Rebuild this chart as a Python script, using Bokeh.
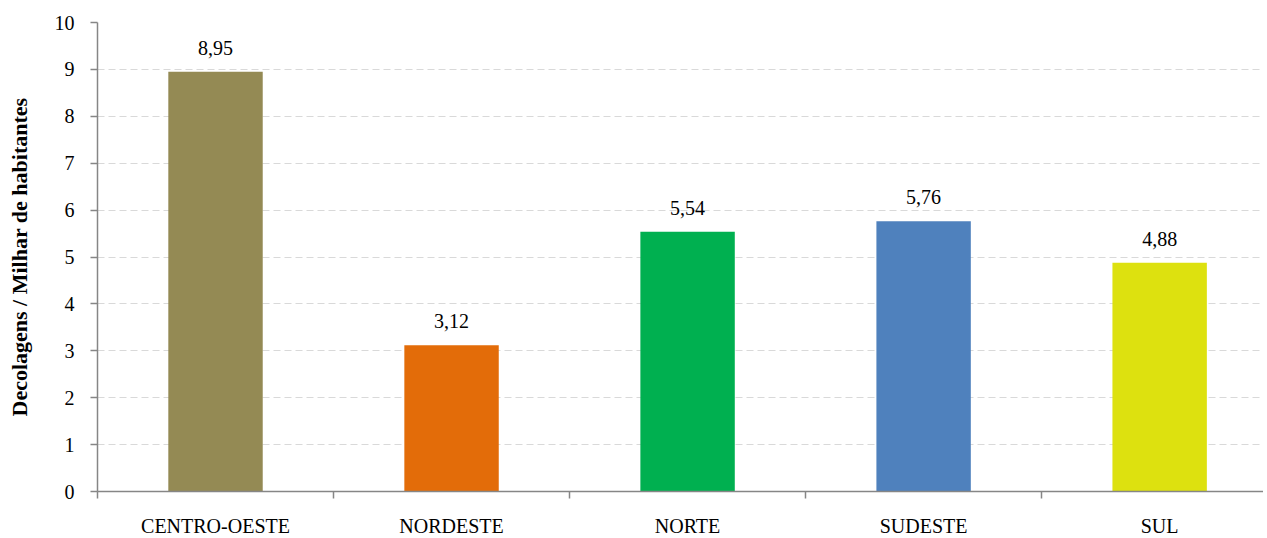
from bokeh.plotting import figure
from bokeh.models import ColumnDataSource, FixedTicker, LabelSet, Range1d
from bokeh.embed import file_html
from bokeh.resources import INLINE

categories = ["CENTRO-OESTE", "NORDESTE", "NORTE", "SUDESTE", "SUL"]
values = [8.95, 3.12, 5.54, 5.76, 4.88]
value_labels = ["8,95", "3,12", "5,54", "5,76", "4,88"]
colors = ["#948A54", "#E36C09", "#00B050", "#4F81BD", "#DDE10F"]
y_ticks = [0, 1, 2, 3, 4, 5, 6, 7, 8, 9, 10]

xpos = [i + 0.5 for i in range(len(categories))]
src = ColumnDataSource(dict(x=xpos, top=values, color=colors, lab=value_labels))

FONT = "Liberation Serif"
AXIS_COL = "#868686"

p = figure(frame_width=1166, frame_height=469, output_backend="svg", toolbar_location=None,
           x_range=Range1d(0, 4.94), y_range=Range1d(0, 10),
           min_border_left=97, min_border_right=0, min_border_top=22, min_border_bottom=0)
p.outline_line_color = None

p.vbar(x="x", top="top", width=0.4, bottom=0, color="color", source=src, line_color=None)

labels = LabelSet(x="x", y="top", text="lab", source=src, text_align="center",
                  text_baseline="bottom", y_offset=17, text_font=FONT,
                  text_font_size="20px", text_color="black")
p.add_layout(labels)

# x axis
p.xaxis.ticker = FixedTicker(ticks=xpos, minor_ticks=list(range(len(categories) + 1)))
p.xaxis.major_label_overrides = {x: c for x, c in zip(xpos, categories)}
p.xaxis.major_tick_out = 0
p.xaxis.major_tick_in = 0
p.xaxis.minor_tick_out = 7
p.xaxis.minor_tick_in = 0
p.xaxis.minor_tick_line_color = AXIS_COL
p.xaxis.minor_tick_line_width = 1.5
p.xaxis.axis_line_color = AXIS_COL
p.xaxis.axis_line_width = 1.5
p.xaxis.major_label_text_font = FONT
p.xaxis.major_label_text_font_size = "20px"
p.xaxis.major_label_text_color = "black"
p.xaxis.major_label_standoff = 16

# y axis
p.yaxis.ticker = FixedTicker(ticks=y_ticks)
p.yaxis.minor_tick_line_color = None
p.yaxis.major_tick_out = 7
p.yaxis.major_tick_in = 0
p.yaxis.major_tick_line_color = AXIS_COL
p.yaxis.major_tick_line_width = 1.5
p.yaxis.axis_line_color = AXIS_COL
p.yaxis.axis_line_width = 1.5
p.yaxis.major_label_text_font = FONT
p.yaxis.major_label_text_font_size = "20px"
p.yaxis.major_label_text_color = "black"
p.yaxis.major_label_standoff = 16
p.yaxis.axis_label = "Decolagens / Milhar de habitantes"
p.yaxis.axis_label_text_font = FONT
p.yaxis.axis_label_text_font_size = "22px"
p.yaxis.axis_label_text_font_style = "bold"
p.yaxis.axis_label_text_color = "black"
p.yaxis.axis_label_standoff = 20

p.xgrid.grid_line_color = None
p.ygrid.grid_line_color = "#D9D9D9"
p.ygrid.grid_line_dash = "7 4"
p.ygrid.grid_line_width = 1.2

open("out.html", "w").write(file_html(p, INLINE))
